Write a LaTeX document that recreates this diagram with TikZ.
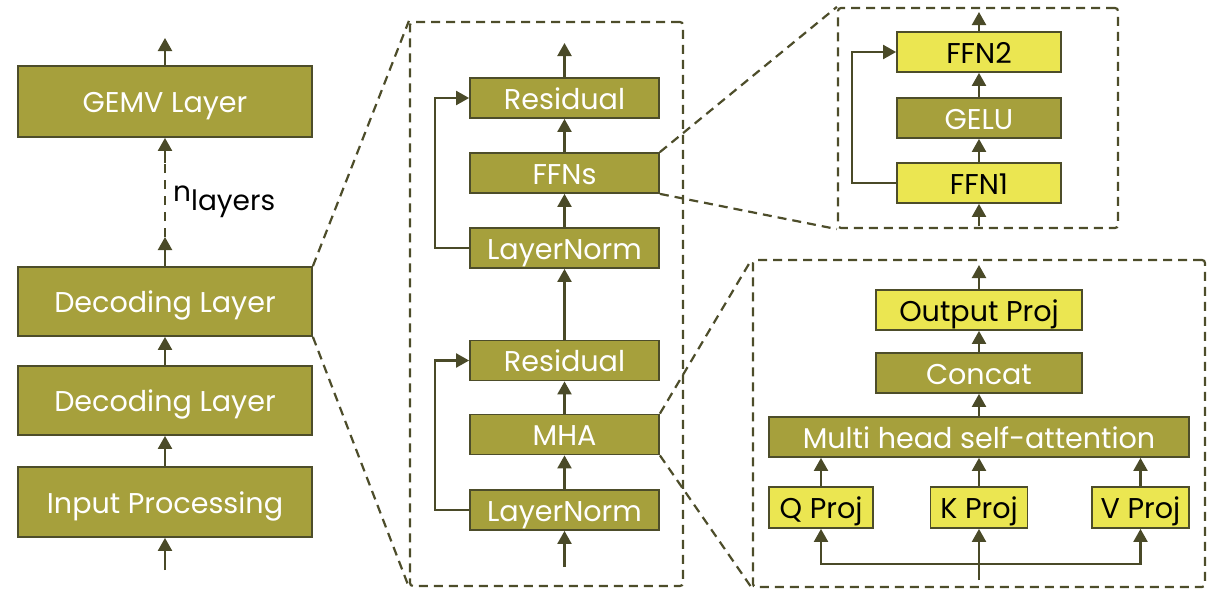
\documentclass[tikz,border=0pt]{standalone}
\usepackage{fontspec}
\setmainfont{Poppins}
\usetikzlibrary{arrows.meta}
\definecolor{boxolive}{HTML}{A6A03C}
\definecolor{boxyellow}{HTML}{EBE651}
\definecolor{edgec}{HTML}{4D4D2A}
\definecolor{arrowc}{HTML}{4A4A28}
\begin{document}
\begin{tikzpicture}[x=1pt,y=-1pt,
  obox/.style={draw=edgec, line width=1.8pt, fill=boxolive, text=white, inner sep=0pt, text height=22pt, text depth=0pt, font=\fontsize{28.6}{32}\selectfont},
  ybox/.style={obox, fill=boxyellow, text=black},
  arr/.style={draw=arrowc, line width=2.2pt, -{Triangle[length=13pt,width=14pt]}},
  plain/.style={draw=arrowc, line width=2.2pt},
  dashline/.style={draw=arrowc, line width=2.2pt, dash pattern=on 9pt off 7pt},
  dbox/.style={draw=edgec, line width=2.2pt, dash pattern=on 9pt off 6pt, rounded corners=3pt, inner sep=0pt},
  zline/.style={draw=edgec, line width=2.2pt, dash pattern=on 9pt off 6pt}]
\useasboundingbox (0,0) rectangle (1210,589);

% left column
\node[obox, minimum width=294pt, minimum height=71pt] (gemv) at (165,101.5) {GEMV Layer};
\node[obox, minimum width=294pt, minimum height=69pt] (dec1) at (165,301.5) {Decoding Layer};
\node[obox, minimum width=294pt, minimum height=69pt] (dec2) at (165,400.5) {Decoding Layer};
\node[obox, minimum width=294pt, minimum height=70pt] (inp) at (165,502) {Input Processing};
\coordinate (gtop) at (165,38);
\coordinate (d1) at (165,237);
\coordinate (d2) at (165,163);
\coordinate (inbot) at (165,570);
\draw[arr] (gemv.north) -- (gtop);
\draw[arr] (dec1.north) -- (d1);
\draw[dashline] (d1) -- (d2);
\draw[arr] (d2) -- (gemv.south);
\draw[arr] (dec2.north) -- (dec1.south);
\draw[arr] (inp.north) -- (dec2.south);
\draw[arr] (inbot) -- (inp.south);
\node[anchor=west, inner sep=0pt, font=\fontsize{28}{32}\selectfont] (nl) at (173,202) {n\raisebox{-9pt}{layers}};

% middle box
\node[dbox, minimum width=273pt, minimum height=564pt] (mbox) at (546.5,304) {};
\node[obox, minimum width=189pt, minimum height=40pt] (res1) at (564.5,98) {Residual};
\node[obox, minimum width=189pt, minimum height=40pt] (ffns) at (564.5,173) {FFNs};
\node[obox, minimum width=189pt, minimum height=40pt] (ln1) at (564.5,248) {LayerNorm};
\node[obox, minimum width=189pt, minimum height=40pt] (res2) at (564.5,360.5) {Residual};
\node[obox, minimum width=189pt, minimum height=40pt] (mha) at (564.5,434.5) {MHA};
\node[obox, minimum width=189pt, minimum height=40pt] (ln2) at (564.5,510) {LayerNorm};
\coordinate (mtop) at (564.5,43);
\coordinate (mbot) at (564.5,567);
\draw[arr] (res1.north) -- (mtop);
\draw[arr] (ffns.north) -- (res1.south);
\draw[arr] (ln1.north) -- (ffns.south);
\draw[arr] (res2.north) -- (ln1.south);
\draw[arr] (mha.north) -- (res2.south);
\draw[arr] (ln2.north) -- (mha.south);
\draw[arr] (mbot) -- (ln2.south);
\draw[arr] (ln1.west) -- ++(-34,0) |- (res1.west);
\draw[arr] (ln2.west) -- ++(-34,0) |- (res2.west);

% zoom lines left -> middle
\draw[zline] (dec1.north east) -- (mbox.north west);
\draw[zline] (dec1.south east) -- (mbox.south west);

% FFN box
\node[dbox, minimum width=280pt, minimum height=220pt] (fbox) at (978,118) {};
\node[ybox, minimum width=164pt, minimum height=40pt] (ffn2) at (979,52) {FFN2};
\node[obox, minimum width=164pt, minimum height=40pt] (gelu) at (979,118) {GELU};
\node[ybox, minimum width=164pt, minimum height=40pt] (ffn1) at (979,183) {FFN1};
\coordinate (ftop) at (979,12);
\coordinate (fbot) at (979,226);
\draw[arr] (ffn2.north) -- (ftop);
\draw[arr] (gelu.north) -- (ffn2.south);
\draw[arr] (ffn1.north) -- (gelu.south);
\draw[arr] (fbot) -- (ffn1.south);
\draw[arr] (ffn1.west) -- ++(-44,0) |- (ffn2.west);
\draw[zline] (ffns.north east) -- (fbox.north west);
\draw[zline] (ffns.south east) -- (fbox.south west);

% MHA box
\node[dbox, minimum width=452pt, minimum height=327pt] (abox) at (979,423.5) {};
\node[ybox, minimum width=206pt, minimum height=40pt] (op) at (979,310) {Output Proj};
\node[obox, minimum width=206pt, minimum height=40pt] (cat) at (979,373) {Concat};
\node[obox, minimum width=420pt, minimum height=40pt] (mhsa) at (979,437) {Multi head self-attention};
\node[ybox, minimum width=104pt, minimum height=41pt] (q) at (821,507.5) {Q Proj};
\node[ybox, minimum width=97pt, minimum height=41pt] (k) at (979,507.5) {K Proj};
\node[ybox, minimum width=97pt, minimum height=41pt] (v) at (1140.5,507.5) {V Proj};
\coordinate (atop) at (979,265);
\coordinate (abot) at (979,580);
\coordinate (split) at (979,564);
\draw[arr] (op.north) -- (atop);
\draw[arr] (cat.north) -- (op.south);
\draw[arr] (mhsa.north) -- (cat.south);
\draw[arr] (q.north) -- (q.north |- mhsa.south);
\draw[arr] (k.north) -- (k.north |- mhsa.south);
\draw[arr] (v.north) -- (v.north |- mhsa.south);
\draw[arr] (abot) -- (k.south);
\draw[arr] (split) -| (q.south);
\draw[arr] (split) -| (v.south);
\draw[zline] (mha.north east) -- (abox.north west);
\draw[zline] (mha.south east) -- (abox.south west);
\end{tikzpicture}
\end{document}
